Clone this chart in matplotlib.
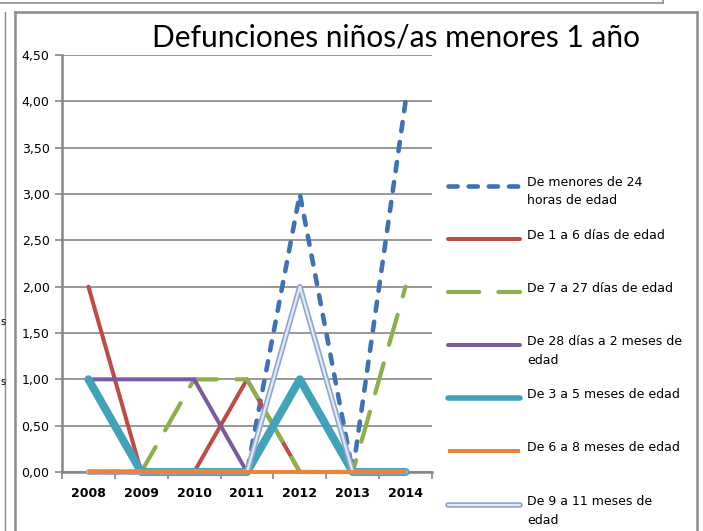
import numpy as np
import matplotlib
matplotlib.use('Agg')
import matplotlib.pyplot as plt
import matplotlib.patheffects as pe
from matplotlib.lines import Line2D

W, H = 703, 531

years = ['2008', '2009', '2010', '2011', '2012', '2013', '2014']

menores_24h = [0, 0, 0, 0, 3, 0, 4]
de_1_a_6 = [2, 0, 0, 1, 0, 0, 0]
de_7_a_27 = [0, 0, 1, 1, 0, 0, 2]
de_28_a_2m = [1, 1, 1, 0, 0, 0, 0]
de_3_a_5m = [1, 0, 0, 0, 1, 0, 0]
de_6_a_8m = [0, 0, 0, 0, 0, 0, 0]
de_9_a_11m = [0, 0, 0, 0, 2, 0, 0]

labels = [
    'De menores de 24\nhoras de edad',
    'De 1 a 6 días de edad',
    'De 7 a 27 días de edad',
    'De 28 días a 2 meses de\nedad',
    'De 3 a 5 meses de edad',
    'De 6 a 8 meses de edad',
    'De 9 a 11 meses de\nedad',
]

yticks = np.arange(0, 4.51, 0.5)


def px(x, y):
    # pixel coords (top-left origin) -> figure fraction
    return x / W, 1 - y / H


series_opts = [
    {'color': '#3F72B5', 'lw': 3.3, 'dashes': (2.0, 2.4), 'dash_capstyle': 'round'},
    {'color': '#BE4B48', 'lw': 2.9, 'solid_capstyle': 'round'},
    {'color': '#8DB04F', 'lw': 3.0, 'dashes': (7.5, 4.6), 'dash_capstyle': 'round'},
    {'color': '#7A5C9E', 'lw': 2.9, 'solid_capstyle': 'round'},
    {'color': '#43A2BB', 'lw': 5.8, 'solid_capstyle': 'round'},
    {'color': '#E9843A', 'lw': 2.9, 'solid_capstyle': 'butt'},
    {'color': '#E4EBF5', 'lw': 1.6, 'solid_capstyle': 'round',
     'path_effects': [pe.Stroke(linewidth=4.0, foreground='#8EA6D2'), pe.Normal()]},
]
all_values = [menores_24h, de_1_a_6, de_7_a_27, de_28_a_2m, de_3_a_5m, de_6_a_8m, de_9_a_11m]
zorders = [3, 4, 5, 6, 7, 9, 8]

fig = plt.figure(figsize=(W / 100, H / 100), dpi=100)
fig.patch.set_facecolor('white')

x0, y0 = px(62, 472)
x1, y1 = px(432, 55)
ax = fig.add_axes([x0, y0, x1 - x0, y1 - y0])

x = np.arange(len(years))
for vals, opts, z in zip(all_values, series_opts, zorders):
    ax.plot(x, vals, clip_on=False, zorder=z, **opts)

ax.set_xlim(-0.5, len(years) - 0.5)
ax.set_ylim(0, 4.5)
ax.set_yticks(yticks)
ax.yaxis.set_major_formatter(matplotlib.ticker.FuncFormatter(lambda v, p: ('%.2f' % v).replace('.', ',')))
ax.set_xticks(x)
ax.set_xticklabels(years)
ax.set_xticks(np.arange(-0.5, len(years)), minor=True)
ax.tick_params(axis='x', which='major', length=0, pad=11, labelsize=9, labelcolor='black')
ax.tick_params(axis='x', which='minor', length=5, color='#868686', width=1.2, direction='out')
ax.tick_params(axis='y', length=5, color='#868686', width=1.2, pad=4, labelsize=9, labelcolor='black')
for lab in ax.get_xticklabels():
    lab.set_fontweight('bold')

ax.grid(axis='y', color='#868686', lw=1.2, zorder=0)
ax.set_axisbelow(True)
for s in ['top', 'right']:
    ax.spines[s].set_visible(False)
for s in ['left', 'bottom']:
    ax.spines[s].set_color('#868686')
    ax.spines[s].set_linewidth(1.8)
ax.set_facecolor('none')

# title
tx, ty = px(396, 38)
fig.text(tx, ty, 'Defunciones niños/as menores 1 año', fontsize=21.5, family='Lato',
         ha='center', va='center', color='black')

# legend, drawn by hand
leg_y = [186, 239, 292, 345, 398, 451, 505]
for lab, opts, ly in zip(labels, series_opts, leg_y):
    xa, ya = px(448, ly)
    xb, _ = px(520, ly)
    lo = dict(opts)
    if lo['lw'] > 5:
        lo['lw'] = 4.0
    fig.add_artist(Line2D([xa, xb], [ya, ya], **lo))
    tx, ty = px(527, ly - 10)
    fig.text(tx, ty, lab, fontsize=9, family='DejaVu Sans', ha='left', va='top',
             linespacing=1.55, color='black')

# borders of the surrounding boxes
gray = '#8C8C8C'
fig.add_artist(Line2D([0, 663 / W], [1 - 3 / H, 1 - 3 / H], color=gray, lw=1.2))
fig.add_artist(Line2D([663 / W, 663 / W], [1 - 3 / H, 1], color=gray, lw=1.2))
fig.add_artist(Line2D([5 / W, 5 / W], [0, 1 - 12 / H], color=gray, lw=1.0))
fig.add_artist(Line2D([15 / W, 15 / W], [0, 1 - 12 / H], color=gray, lw=1.8))
fig.add_artist(Line2D([15 / W, 697 / W], [1 - 12 / H, 1 - 12 / H], color=gray, lw=1.8))
fig.add_artist(Line2D([697 / W, 697 / W], [0, 1 - 12 / H], color=gray, lw=1.8))

# fragments of text from the neighbouring chart
for yy in [322, 382]:
    sx, sy = px(0, yy)
    fig.text(sx, sy, 's', fontsize=7, ha='left', va='center')

fig.savefig('out.png', dpi=100)
